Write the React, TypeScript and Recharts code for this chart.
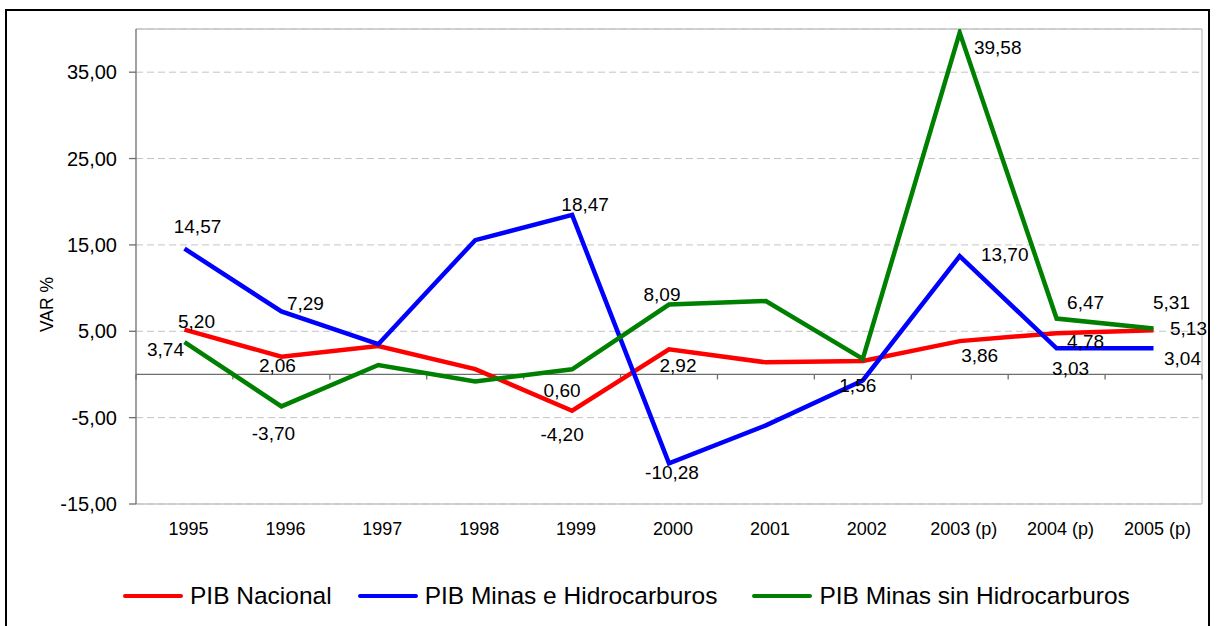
import React from 'react';
import {
  LineChart,
  Line,
  XAxis,
  YAxis,
  CartesianGrid,
  ReferenceLine,
  Legend,
  LabelList,
  Label,
} from 'recharts';

const years = ['1995', '1996', '1997', '1998', '1999', '2000', '2001', '2002', '2003 (p)', '2004 (p)', '2005 (p)'];
const pibNacional = [5.2, 2.06, 3.3, 0.62, -4.2, 2.92, 1.4, 1.56, 3.86, 4.78, 5.13];
const pibMinasHidro = [14.57, 7.29, 3.5, 15.55, 18.47, -10.28, -5.9, -0.7, 13.7, 3.03, 3.04];
const pibMinasSinHidro = [3.74, -3.7, 1.1, -0.8, 0.6, 8.09, 8.5, 1.8, 39.58, 6.47, 5.31];
const yTicks = [-15, -5, 5, 15, 25, 35];
const seriesNames = ['PIB Nacional', 'PIB Minas e Hidrocarburos', 'PIB Minas sin Hidrocarburos'];

type Off = [number, number] | null;
const redLabelOffsets: Off[] = [[12, -8], [-4, 9], null, null, [-10, 24], [9, 16], null, [-5, 25], [20, 14], [29, 8], [35, -2]];
const blueLabelOffsets: Off[] = [[13, -22], [24, -8], null, null, [13, -10], [3, 9], null, null, [45, -2], [14, 20], [29, 10]];
const greenLabelOffsets: Off[] = [[-19, 7], [-8, 27], null, null, [-10, 21], [-7, -10], null, null, [38, 15], [29, -16], [18, -26]];
const legendGaps = [26, 35, 0];

const FONT = '"Liberation Sans", Arial, Helvetica, sans-serif';
const AXIS_COLOR = '#6e6e6e';
const GRID_COLOR = '#c4c4c4';

const data = years.map((year, i) => ({
  year,
  nacional: pibNacional[i],
  minasHidro: pibMinasHidro[i],
  minasSinHidro: pibMinasSinHidro[i],
}));

const fmt = (v: number) => v.toFixed(2).replace('.', ',');

function makeLabel(offsets: Off[]) {
  return (props: any) => {
    const { value, index } = props;
    const x = props.x ?? props.viewBox?.x;
    const y = props.y ?? props.viewBox?.y;
    const off = offsets[index];
    if (!off || x == null || y == null || value == null) return null;
    return (
      <text
        x={x + off[0]}
        y={y + off[1]}
        textAnchor="middle"
        dominantBaseline="central"
        fontSize={19}
        fontFamily={FONT}
        fill="#000"
      >
        {fmt(Number(value))}
      </text>
    );
  };
}

const ZeroLine = (props: any) => {
  const { x1, x2, y1 } = props;
  if (x1 == null) return null;
  const n = years.length;
  const step = (x2 - x1) / n;
  return (
    <g>
      <line x1={x1} y1={y1} x2={x2} y2={y1} stroke={AXIS_COLOR} strokeWidth={1.3} />
      {Array.from({ length: n + 1 }, (_, i) => (
        <line
          key={i}
          x1={x1 + i * step}
          x2={x1 + i * step}
          y1={y1}
          y2={y1 + 5}
          stroke={AXIS_COLOR}
          strokeWidth={1.3}
        />
      ))}
    </g>
  );
};

const LegendContent = (props: any) => {
  const payload = [...(props.payload || [])].sort(
    (a: any, b: any) => seriesNames.indexOf(a.value) - seriesNames.indexOf(b.value)
  );
  return (
    <div
      style={{
        display: 'flex',
        alignItems: 'center',
        height: 40,
        paddingLeft: 123,
        fontFamily: FONT,
        fontSize: 24.5,
        color: '#000',
        whiteSpace: 'nowrap',
      }}
    >
      {payload.map((p: any, i: number) => (
        <div key={i} style={{ display: 'flex', alignItems: 'center', marginRight: legendGaps[i] }}>
          <div style={{ width: 60, height: 4, background: p.color, borderRadius: 2, marginRight: 7 }} />
          <span>{p.value}</span>
        </div>
      ))}
    </div>
  );
};

export default function App() {
  return (
    <div style={{ position: 'absolute', left: 0, top: 0, width: 1217, height: 626, overflow: 'hidden', background: '#fff' }}>
      <div
        style={{
          position: 'absolute',
          left: 5,
          top: 9,
          width: 1205,
          height: 700,
          border: '2px solid #000',
          boxSizing: 'border-box',
        }}
      />
      <div style={{ position: 'absolute', left: 0, top: 0 }}>
        <LineChart
          width={1217}
          height={626}
          data={data}
          margin={{ top: 29, right: 15, left: 0, bottom: 10 }}
        >
          <CartesianGrid vertical={false} stroke={GRID_COLOR} strokeDasharray="7 4" />
          <CartesianGrid
            stroke={GRID_COLOR}
            strokeWidth={1.3}
            horizontalCoordinatesGenerator={(a: any) => [a.offset.top, a.offset.top + a.offset.height]}
            verticalCoordinatesGenerator={(a: any) => [a.offset.left + a.offset.width]}
          />
          <XAxis
            dataKey="year"
            axisLine={false}
            tickLine={false}
            tickSize={0}
            tickMargin={18}
            height={72}
            interval={0}
            padding={{ left: 48.5, right: 48.5 }}
            tick={{ fontSize: 18, fontFamily: FONT, fill: '#000', dx: 4 }}
          />
          <YAxis
            width={136}
            domain={[-15, 40]}
            ticks={yTicks}
            interval={0}
            allowDataOverflow
            tickFormatter={fmt}
            axisLine={{ stroke: AXIS_COLOR, strokeWidth: 1.3 }}
            tickLine={{ stroke: AXIS_COLOR, strokeWidth: 1.3 }}
            tickSize={7}
            tickMargin={12}
            tick={{ fontSize: 20, fontFamily: FONT, fill: '#000' }}
          >
            <Label
              content={(p: any) => {
                const vb = p.viewBox || { x: 0, y: 0, width: 136, height: 475 };
                const cx = vb.x + 47;
                const cy = vb.y + vb.height * 0.58;
                return (
                  <text
                    x={cx}
                    y={cy}
                    transform={`rotate(-90, ${cx}, ${cy})`}
                    textAnchor="middle"
                    dominantBaseline="central"
                    fontSize={17.5}
                    fontFamily={FONT}
                    fill="#000"
                  >
                    VAR %
                  </text>
                );
              }}
            />
          </YAxis>
          <ReferenceLine y={0} shape={ZeroLine} ifOverflow="visible" />
          <Legend
            verticalAlign="bottom"
            height={40}
            wrapperStyle={{ left: 0, width: 1217 }}
            content={(p: any) => <LegendContent payload={p.payload} />}
          />
          <Line
            name={seriesNames[0]}
            dataKey="nacional"
            stroke="#ff0000"
            strokeWidth={4.5}
            dot={false}
            activeDot={false}
            isAnimationActive={false}
          >
            <LabelList dataKey="nacional" content={makeLabel(redLabelOffsets)} />
          </Line>
          <Line
            name={seriesNames[1]}
            dataKey="minasHidro"
            stroke="#0000ff"
            strokeWidth={4.5}
            dot={false}
            activeDot={false}
            isAnimationActive={false}
          >
            <LabelList dataKey="minasHidro" content={makeLabel(blueLabelOffsets)} />
          </Line>
          <Line
            name={seriesNames[2]}
            dataKey="minasSinHidro"
            stroke="#008000"
            strokeWidth={4.5}
            dot={false}
            activeDot={false}
            isAnimationActive={false}
          >
            <LabelList dataKey="minasSinHidro" content={makeLabel(greenLabelOffsets)} />
          </Line>
        </LineChart>
      </div>
    </div>
  );
}
